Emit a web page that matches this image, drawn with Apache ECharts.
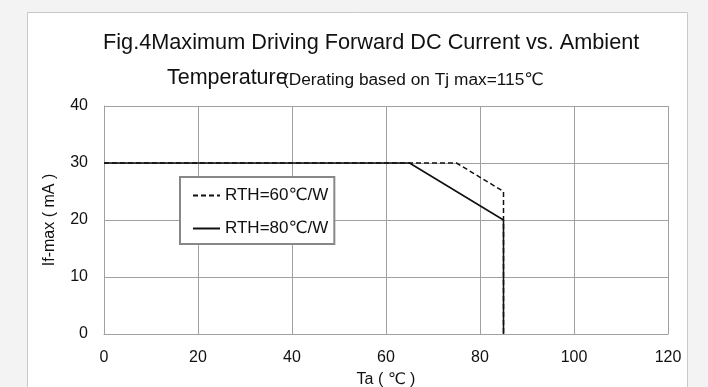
<!DOCTYPE html>
<html>
<head>
<meta charset="utf-8">
<script src="https://cdn.jsdelivr.net/npm/echarts@6/dist/echarts.min.js"></script>
<style>
html,body{margin:0;padding:0;background:#f3f3f3;}
#c{width:708px;height:387px;}
</style>
</head>
<body>
<div id="c"></div>
<script>
const titleLine1 = 'Fig.4Maximum Driving Forward DC Current vs. Ambient';
const titleLine2a = 'Temperature';
const titleLine2b = '(Derating based on Tj max=115\u2103';
const xAxisName = 'Ta ( \u2103 )';
const yAxisName = 'If-max ( mA )';
const seriesNames = ['RTH=60\u2103/W', 'RTH=80\u2103/W'];
const rth60X = [0, 75, 85, 85];
const rth60Y = [30, 30, 25, 0];
const rth80X = [0, 65, 85, 85];
const rth80Y = [30, 30, 20, 0];
const xMin = 0, xMax = 120, xStep = 20;
const yMin = 0, yMax = 40, yStep = 10;

const FONT = '"Liberation Sans", Arial, "DejaVu Sans", sans-serif';
const pairs = (xs, ys) => xs.map((x, i) => [x, ys[i]]);

const chart = echarts.init(document.getElementById('c'), null, {renderer: 'canvas'});
chart.setOption({
  backgroundColor: '#f3f3f3',
  animation: false,
  graphic: [
    {type: 'rect', z: -10, shape: {x: 27.5, y: 12.5, width: 660, height: 400},
     style: {fill: '#ffffff', stroke: '#c8c8c8', lineWidth: 1}},
    {type: 'text', x: 103, y: 43, style: {text: titleLine1, font: '21.7px ' + FONT, fill: '#111', verticalAlign: 'middle'}},
    {type: 'text', x: 167, y: 78, style: {text: titleLine2a, font: '21.5px ' + FONT, fill: '#111', verticalAlign: 'middle'}},
    {type: 'text', x: 283, y: 80, style: {text: titleLine2b, font: '17.3px ' + FONT, fill: '#111', verticalAlign: 'middle'}}
  ],
  grid: {left: 104, right: 40, top: 106, bottom: 53, containLabel: false, outerBoundsMode: 'none'},
  legend: {
    show: true,
    orient: 'vertical', left: 180, top: 177,
    padding: [10, 6, 7, 12], itemGap: 16,
    itemWidth: 27, itemHeight: 14,
    borderColor: '#888', borderWidth: 2, backgroundColor: '#fff',
    itemStyle: {opacity: 0},
    textStyle: {fontFamily: FONT, fontSize: 17, color: '#111'},
    data: seriesNames
  },
  xAxis: {
    type: 'value', min: xMin, max: xMax, interval: xStep,
    name: xAxisName, nameLocation: 'middle', nameGap: 38,
    nameTextStyle: {fontFamily: FONT, fontSize: 16, color: '#111'},
    axisLine: {show: true, lineStyle: {color: '#a0a0a0', width: 1}},
    axisTick: {show: false},
    axisLabel: {fontFamily: FONT, fontSize: 16, color: '#111', margin: 16},
    splitLine: {show: true, lineStyle: {color: '#a0a0a0', width: 1}}
  },
  yAxis: {
    type: 'value', min: yMin, max: yMax, interval: yStep,
    name: yAxisName, nameLocation: 'middle', nameGap: 46, nameRotate: 90,
    nameTextStyle: {fontFamily: FONT, fontSize: 16, color: '#111'},
    axisLine: {show: true, lineStyle: {color: '#a0a0a0', width: 1}},
    axisTick: {show: false},
    axisLabel: {fontFamily: FONT, fontSize: 16, color: '#111', margin: 16},
    splitLine: {show: true, lineStyle: {color: '#a0a0a0', width: 1}}
  },
  series: [
    {name: seriesNames[0], type: 'line', data: pairs(rth60X, rth60Y), symbol: 'none',
     lineStyle: {color: '#111', width: 1.5, type: [5, 3]}, itemStyle: {color: '#111'}, z: 3},
    {name: seriesNames[1], type: 'line', data: pairs(rth80X, rth80Y), symbol: 'none',
     lineStyle: {color: '#111', width: 1.6, type: 'solid'}, itemStyle: {color: '#111'}, z: 4}
  ]
});
</script>
</body>
</html>
